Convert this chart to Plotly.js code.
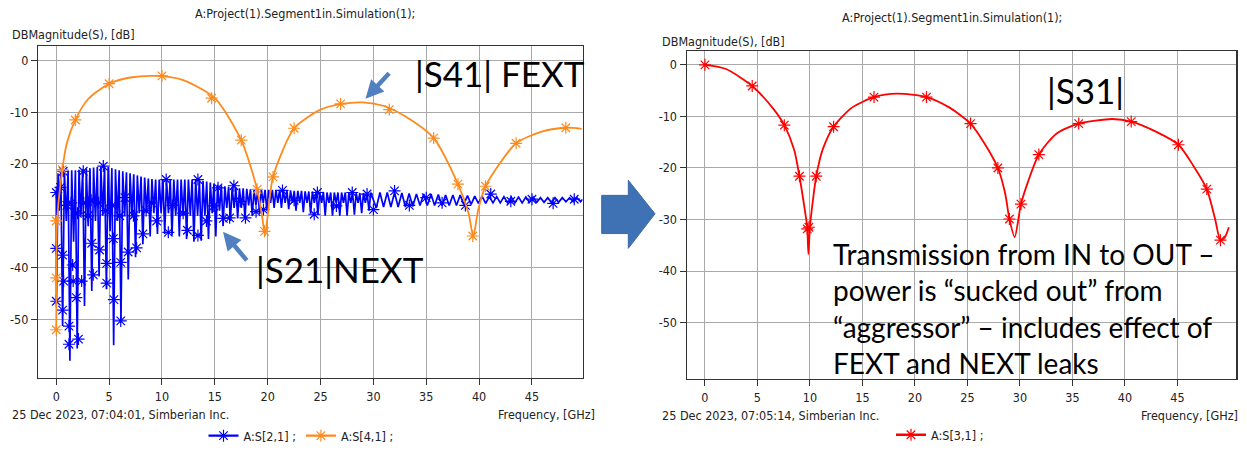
<!DOCTYPE html>
<html>
<head>
<meta charset="utf-8">
<script src="https://cdn.plot.ly/plotly-3.0.1.min.js"></script>
<style>
  html, body { margin: 0; padding: 0; background: #ffffff; }
  #chart { width: 1247px; height: 451px; }
</style>
</head>
<body>
<div id="chart"></div>
<script>
// ---------------- DATA ----------------
const chartTitle = "A:Project(1).Segment1in.Simulation(1);";
const yAxisLabel = "DBMagnitude(S), [dB]";
const xAxisLabel = "Frequency, [GHz]";
const footerLeft = "25 Dec 2023, 07:04:01, Simberian Inc.";
const footerRight = "25 Dec 2023, 07:05:14, Simberian Inc.";

const freqTicks = [0, 5, 10, 15, 20, 25, 30, 35, 40, 45];
const freqTickText = ["0", "5", "10", "15", "20", "25", "30", "35", "40", "45"];
const dbTicks = [0, -10, -20, -30, -40, -50];
const dbTickText = ["0", "-10", "-20", "-30", "-40", "-50"];

// |S21| NEXT (blue) - ripple extrema (peak / deep null / peak / shallow null ...)
const s21Freq = [0.00, 0.02, 0.17, 0.27, 0.43,
  0.60, 0.77, 0.95, 1.12, 1.29, 1.46, 1.64, 1.81, 1.98, 2.15, 2.33, 2.50,
  2.67, 2.84, 3.02, 3.19, 3.36, 3.53, 3.71, 3.88, 4.05, 4.22, 4.40, 4.57,
  4.74, 4.91, 5.09, 5.26, 5.43, 5.60, 5.78, 5.95, 6.12, 6.29, 6.47, 6.64,
  6.81, 6.98, 7.16, 7.33, 7.50, 7.67, 7.85, 8.02, 8.19, 8.36, 8.54, 8.71,
  8.88, 9.05, 9.23, 9.40, 9.57, 9.74, 9.92, 10.09, 10.26, 10.43, 10.61, 10.78,
  10.95, 11.12, 11.30, 11.47, 11.64, 11.81, 11.99, 12.16, 12.33, 12.50, 12.68, 12.85,
  13.02, 13.19, 13.37, 13.54, 13.71, 13.88, 14.06, 14.23, 14.40, 14.57, 14.75, 14.92,
  15.09, 15.26, 15.44, 15.61, 15.78, 15.95, 16.13, 16.30, 16.47, 16.64, 16.82, 16.99,
  17.16, 17.33, 17.51, 17.68, 17.85, 18.02, 18.20, 18.37, 18.54, 18.71, 18.89, 19.06,
  19.23, 19.40, 19.58, 19.75, 19.92, 20.09, 20.27, 20.44, 20.61, 20.78, 20.96, 21.13,
  21.30, 21.47, 21.65, 21.82, 21.99, 22.16, 22.34, 22.51, 22.68, 22.85, 23.03, 23.20,
  23.37, 23.54, 23.72, 23.89, 24.06, 24.23, 24.41, 24.58, 24.75, 24.92, 25.10, 25.27,
  25.44, 25.61, 25.79, 25.96, 26.13, 26.30, 26.48, 26.65, 26.82, 26.99, 27.17, 27.34,
  27.51, 27.68, 27.86, 28.03, 28.20, 28.37, 28.55, 28.72, 28.89, 29.06, 29.24, 29.41,
  29.58, 29.75,
  30.27, 30.62, 30.96, 31.31, 31.65, 32.00, 32.34,
  32.69, 33.03, 33.38, 33.72, 34.07, 34.41, 34.76, 35.10, 35.45, 35.79, 36.14, 36.48, 36.83, 37.17, 37.52, 37.86,
  38.21, 38.55, 38.90, 39.24, 39.59, 39.93, 40.28, 40.62, 40.97, 41.31, 41.66, 42.00, 42.35, 42.69, 43.04, 43.38,
  43.73, 44.07, 44.42, 44.76, 45.11, 45.45, 45.80, 46.14, 46.49, 46.83, 47.18, 47.52, 47.87, 48.21, 48.56, 48.90,
  49.25, 49.59, 49.80];
const s21Db = [-25.5, -47.0, -21.8, -29.0, -21.5,
  -51.3, -21.4, -31.0, -21.3, -58.0, -21.2, -35.0, -21.2, -55.6, -21.1, -30.0, -21.0,
  -47.4, -20.9, -32.0, -20.8, -44.5, -20.7, -31.0, -20.6, -41.7, -20.5, -30.0, -20.5,
  -44.2, -20.6, -33.0, -20.8, -55.0, -21.0, -31.0, -21.2, -50.3, -21.4, -30.0, -21.6,
  -42.3, -21.8, -30.0, -22.0, -38.0, -22.2, -29.5, -22.4, -35.5, -22.6, -29.5, -22.8,
  -34.0, -22.9, -29.5, -23.0, -33.5, -23.0, -29.5, -23.0, -33.5, -23.0, -29.5, -23.0,
  -33.8, -23.0, -30.0, -23.0, -34.0, -23.0, -30.0, -23.0, -34.5, -23.0, -30.0, -23.0,
  -35.0, -23.1, -30.0, -23.2, -34.8, -23.3, -30.0, -23.4, -34.5, -23.6, -29.5, -23.8,
  -34.0, -24.0, -29.0, -24.1, -32.0, -24.3, -28.5, -24.4, -31.0, -24.5, -28.5, -24.6,
  -30.5, -24.7, -28.5, -24.7, -30.5, -24.8, -28.0, -24.9, -30.0, -25.0, -28.0, -25.0,
  -29.5, -25.0, -27.5, -25.0, -29.0, -25.0, -27.5, -25.0, -28.5, -25.0, -27.5, -25.0,
  -28.5, -25.0, -27.5, -25.1, -28.7, -25.1, -27.5, -25.2, -29.0, -25.2, -27.5, -25.2,
  -29.3, -25.3, -27.5, -25.3, -29.6, -25.3, -27.5, -25.3, -29.8, -25.4, -27.5, -25.4,
  -30.0, -25.5, -27.5, -25.5, -30.0, -25.5, -27.5, -25.5, -30.0, -25.5, -27.5, -25.5,
  -30.0, -25.5, -27.5, -25.5, -29.8, -25.6, -27.5, -25.6, -29.5, -25.6, -27.5, -25.6,
  -29.0, -25.5,
  -28.5, -25.5, -28.3, -25.5, -28.3, -25.5, -28.3,
  -25.6, -28.3, -25.7, -28.2, -25.8, -28.0, -25.8, -28.0, -25.8, -28.0, -25.9, -28.0, -26.0, -28.0, -26.0, -28.0,
  -26.0, -27.8, -26.1, -27.8, -26.2, -27.6, -26.2, -27.6, -26.3, -27.5, -26.3, -27.5, -26.3, -27.5, -26.4, -27.5,
  -26.4, -27.5, -26.4, -27.4, -26.4, -27.4, -26.5, -27.4, -26.5, -27.4, -26.5, -27.4, -26.5, -27.3, -26.5, -27.3,
  -26.5, -27.3, -26.8];
// S21 marker (asterisk) samples
const s21MarkFreq = [0.0, 0.0, 0.0, 0.6, 0.6, 0.7, 0.66, 0.4, 1.2, 1.2, 1.0, 1.55, 1.6, 1.4, 1.9, 2.1, 2.0, 2.4, 2.55, 2.6,
  3.0, 3.35, 3.5, 3.3, 4.1, 4.0, 4.45, 4.77, 4.77, 4.7, 5.4, 5.45, 5.3, 6.1, 6.1, 6.0, 6.8, 6.5, 7.6, 7.3,
  8.2, 8.5, 9.0, 9.5, 10.4, 10.6, 11.0, 12.4, 12.0, 13.4, 13.4, 14.2, 14.9, 15.3, 15.8, 16.4, 16.8, 17.4, 17.9, 18.9,
  19.6, 21.4, 22.5, 24.4, 24.7, 26.5, 28.0, 29.4, 30.0, 32.0, 33.4, 35.0, 36.5, 38.7, 41.1, 43.0, 45.0, 47.0, 49.0];
const s21MarkDb = [-25.5, -36.3, -46.5, -37.6, -48.2, -42.6, -21.4, -24.5, -51.3, -54.8, -28.0, -39.5, -42.6, -27.5, -45.8, -53.8, -29.5, -42.6, -21.4, -27.5,
  -30.0, -35.3, -41.4, -27.0, -36.6, -27.5, -20.4, -43.0, -39.2, -29.0, -34.4, -46.2, -28.0, -39.0, -50.3, -30.0, -37.0, -26.5, -36.2, -30.0,
  -33.5, -29.0, -27.5, -31.0, -23.0, -33.2, -28.0, -32.8, -29.5, -23.0, -33.8, -31.0, -28.1, -24.6, -30.5, -30.4, -24.2, -27.2, -30.4, -29.2,
  -28.8, -25.1, -27.0, -29.7, -25.5, -28.1, -25.5, -25.8, -28.8, -25.2, -28.0, -26.5, -27.5, -28.0, -25.8, -27.2, -26.8, -27.6, -26.8];

// |S41| FEXT (orange)
const s41Freq = [0.0, 0.02, 0.08, 0.57, 1.0, 1.8, 3.0, 5.0, 7.0, 9.5, 12.0, 15.0, 17.5, 19.0, 19.5, 19.75, 20.0, 20.5, 22.5,
  25.0, 27.0, 29.0, 31.0, 33.0, 35.7, 38.0, 39.0, 39.45, 39.9, 40.6, 43.5, 46.0, 48.2, 49.7];
const s41Db = [-52.0, -42.0, -31.0, -21.1, -16.0, -11.5, -7.5, -4.5, -3.3, -3.0, -3.8, -7.3, -15.4, -24.9, -30.5, -33.8, -30.0, -22.5, -13.1,
  -9.5, -8.4, -8.1, -8.8, -10.8, -15.0, -23.9, -29.5, -34.0, -29.0, -24.3, -16.0, -13.7, -13.0, -13.2];
const s41MarkFreq = [0.0, 0.0, 0.0, 0.57, 1.8, 5.0, 10.0, 14.7, 17.5, 19.0, 19.7, 20.5, 22.5, 26.9, 31.5, 35.7, 38.0, 39.4, 40.6, 43.5, 48.2];
const s41MarkDb = [-52.0, -42.0, -31.0, -21.1, -11.5, -4.5, -3.0, -7.3, -15.4, -24.9, -33.0, -22.5, -13.1, -8.4, -9.5, -15.0, -23.9, -33.9, -24.3, -16.0, -13.0];

// |S31| (red)
const s31Freq = [0.0, 2.0, 4.5, 6.5, 7.56, 8.5, 9.0, 9.5, 9.74, 9.85, 10.0, 10.3, 10.6, 11.2, 12.25, 14.0, 16.1, 18.3, 21.1,
  23.3, 25.3, 26.7, 27.9, 28.6, 29.0, 29.5, 30.1, 30.8, 31.8, 33.5, 35.6, 38.8, 40.6, 43.0, 45.1, 46.5, 47.8, 48.6, 49.1, 49.5, 49.9];
const s31Db = [0.0, -0.8, -4.1, -8.5, -11.7, -16.5, -21.6, -28.0, -31.5, -36.7, -31.5, -26.0, -21.6, -16.5, -12.0, -8.3, -6.25, -5.6, -6.25,
  -8.3, -11.4, -15.5, -20.0, -25.0, -29.9, -33.4, -27.0, -22.5, -17.4, -13.3, -11.4, -10.5, -11.0, -13.0, -15.5, -19.5, -24.1, -30.0, -34.0, -33.5, -31.5];
const s31MarkFreq = [0.0, 4.5, 7.56, 9.0, 9.74, 9.9, 10.6, 12.25, 16.1, 21.1, 25.3, 27.9, 29.0, 30.1, 31.8, 35.6, 40.6, 45.1, 47.8, 49.1];
const s31MarkDb = [0.0, -4.1, -11.7, -21.6, -31.8, -31.5, -21.6, -12.0, -6.25, -6.25, -11.4, -20.0, -29.9, -27.0, -17.4, -11.4, -11.0, -15.5, -24.1, -34.0];

const seriesNames = ["A:S[2,1] ;", "A:S[4,1] ;", "A:S[3,1] ;"];

// ---------------- STYLE / LAYOUT HELPERS ----------------
const W = 1247, H = 451;
const px = x => x / W;
const py = y => 1 - y / H;
const BLUE = "#0000ff", ORANGE = "#ff8a1c", RED = "#ff0000";
const TXT = "#222222";
const smallFont = { family: "Liberation Sans Narrow, DejaVu Sans Condensed, Liberation Sans, Arial", size: 12.5, color: TXT };
const bigFont = { family: "Lato, Open Sans, sans-serif", size: 35, color: "#000000" };

function mk(color, size) {
  return { symbol: "asterisk-open", size: size, color: color, line: { color: color, width: 1.2 } };
}

const traces = [
  { x: s21Freq, y: s21Db, mode: "lines", line: { color: BLUE, width: 1.7 }, xaxis: "x", yaxis: "y", showlegend: false, hoverinfo: "skip" },
  { x: s21MarkFreq, y: s21MarkDb, mode: "markers", marker: mk(BLUE, 10), xaxis: "x", yaxis: "y", showlegend: false, hoverinfo: "skip" },
  { x: s41Freq, y: s41Db, mode: "lines", line: { color: ORANGE, width: 1.8, shape: "spline", smoothing: 0.7 }, xaxis: "x", yaxis: "y", showlegend: false, hoverinfo: "skip" },
  { x: s41MarkFreq, y: s41MarkDb, mode: "markers", marker: mk(ORANGE, 10), xaxis: "x", yaxis: "y", showlegend: false, hoverinfo: "skip" },
  { x: s31Freq, y: s31Db, mode: "lines", line: { color: RED, width: 1.8, shape: "spline", smoothing: 0.7 }, xaxis: "x2", yaxis: "y2", showlegend: false, hoverinfo: "skip" },
  { x: s31MarkFreq, y: s31MarkDb, mode: "markers", marker: mk(RED, 10), xaxis: "x2", yaxis: "y2", showlegend: false, hoverinfo: "skip" },
  // legend entries
  { x: [null], y: [null], mode: "lines+markers", name: seriesNames[0], line: { color: BLUE, width: 2.4 }, marker: mk(BLUE, 10), xaxis: "x", yaxis: "y", legend: "legend" },
  { x: [null], y: [null], mode: "lines+markers", name: seriesNames[1], line: { color: ORANGE, width: 2.4 }, marker: mk(ORANGE, 10), xaxis: "x", yaxis: "y", legend: "legend" },
  { x: [null], y: [null], mode: "lines+markers", name: seriesNames[2], line: { color: RED, width: 2.4 }, marker: mk(RED, 10), xaxis: "x2", yaxis: "y2", legend: "legend2" }
];

function axisBase(extra) {
  return Object.assign({
    showgrid: true, gridcolor: "#a9a9a9", gridwidth: 1,
    showline: true, linecolor: "#333333", linewidth: 1.5, mirror: true,
    ticks: "outside", ticklen: 6, tickcolor: "#333333", tickwidth: 1,
    zeroline: false, tickfont: smallFont, fixedrange: true, tickmode: "array"
  }, extra);
}

function pathFromPx(points) {
  return points.map((p, i) => (i === 0 ? "M" : "L") + px(p[0]).toFixed(5) + "," + py(p[1]).toFixed(5)).join(" ") + " Z";
}

const layout = {
  width: W, height: H,
  margin: { l: 0, r: 0, t: 0, b: 0 },
  paper_bgcolor: "#ffffff", plot_bgcolor: "#ffffff",
  xaxis: axisBase({ domain: [px(38.3), px(582.5)], range: [-1.70, 49.78], tickvals: freqTicks, ticktext: freqTickText, anchor: "y", ticklabelstandoff: 1 }),
  yaxis: axisBase({ domain: [py(383), py(47)], range: [-61.3, 2.71], tickvals: dbTicks, ticktext: dbTickText, anchor: "x" }),
  xaxis2: axisBase({ domain: [px(687), px(1236)], range: [-1.71, 50.58], tickvals: freqTicks, ticktext: freqTickText, anchor: "y2", ticklabelstandoff: 1 }),
  yaxis2: axisBase({ domain: [py(384), py(51.7)], range: [-60.9, 2.68], tickvals: dbTicks, ticktext: dbTickText, anchor: "x2" }),
  legend: { orientation: "h", x: px(301), xanchor: "center", y: py(442), yanchor: "middle", font: smallFont, bgcolor: "rgba(0,0,0,0)", itemclick: false },
  legend2: { orientation: "h", x: px(940), xanchor: "center", y: py(441), yanchor: "middle", font: smallFont, bgcolor: "rgba(0,0,0,0)", itemclick: false },
  shapes: [
    { type: "path", xref: "paper", yref: "paper",
      path: pathFromPx([[601.7, 198], [628.3, 198], [628.3, 182.7], [655, 216.7], [628.3, 251.7], [628.3, 236.7], [601.7, 236.7]]),
      fillcolor: "#3e72b5", line: { color: "#3a6aa8", width: 1 } }
  ],
  annotations: [
    { text: chartTitle, xref: "paper", yref: "paper", x: px(305), y: py(14), xanchor: "center", yanchor: "middle", showarrow: false, font: smallFont },
    { text: chartTitle, xref: "paper", yref: "paper", x: px(952), y: py(18), xanchor: "center", yanchor: "middle", showarrow: false, font: smallFont },
    { text: yAxisLabel, xref: "paper", yref: "paper", x: px(10), y: py(35), xanchor: "left", yanchor: "middle", showarrow: false, font: smallFont },
    { text: yAxisLabel, xref: "paper", yref: "paper", x: px(660), y: py(42), xanchor: "left", yanchor: "middle", showarrow: false, font: smallFont },
    { text: footerLeft, xref: "paper", yref: "paper", x: px(10), y: py(420), xanchor: "left", yanchor: "middle", showarrow: false, font: smallFont },
    { text: xAxisLabel, xref: "paper", yref: "paper", x: px(597), y: py(420), xanchor: "right", yanchor: "middle", showarrow: false, font: smallFont },
    { text: footerRight, xref: "paper", yref: "paper", x: px(660), y: py(421), xanchor: "left", yanchor: "middle", showarrow: false, font: smallFont },
    { text: xAxisLabel, xref: "paper", yref: "paper", x: px(1240), y: py(421), xanchor: "right", yanchor: "middle", showarrow: false, font: smallFont },
    // big callouts
    { text: "|S41| FEXT", xref: "paper", yref: "paper", x: px(500), y: py(74), xanchor: "center", yanchor: "middle", showarrow: false, font: bigFont },
    { text: "|S21|NEXT", xref: "paper", yref: "paper", x: px(340), y: py(273), xanchor: "center", yanchor: "middle", showarrow: false, font: bigFont },
    { text: "|S31|", xref: "paper", yref: "paper", x: px(1085), y: py(91), xanchor: "center", yanchor: "middle", showarrow: false, font: bigFont },
    { text: "Transmission from IN to OUT –<br>power is “sucked out” from<br>“aggressor” – includes effect of<br>FEXT and NEXT leaks",
      xref: "paper", yref: "paper", x: px(831), y: py(313), xanchor: "left", yanchor: "middle", align: "left", showarrow: false,
      font: { family: "Lato, Open Sans, sans-serif", size: 28, color: "#000000" } },
    // callout arrows
    { text: "", xref: "paper", yref: "paper", x: px(365.5), y: py(100), ax: 25, ay: -27, showarrow: true,
      arrowhead: 2, arrowsize: 0.8, arrowwidth: 4.5, arrowcolor: "#5080c0" },
    { text: "", xref: "paper", yref: "paper", x: px(223), y: py(235), ax: 25, ay: 30, showarrow: true,
      arrowhead: 2, arrowsize: 0.8, arrowwidth: 4.5, arrowcolor: "#5080c0" }
  ]
};

Plotly.newPlot("chart", traces, layout, { staticPlot: true, displayModeBar: false });
</script>
</body>
</html>
